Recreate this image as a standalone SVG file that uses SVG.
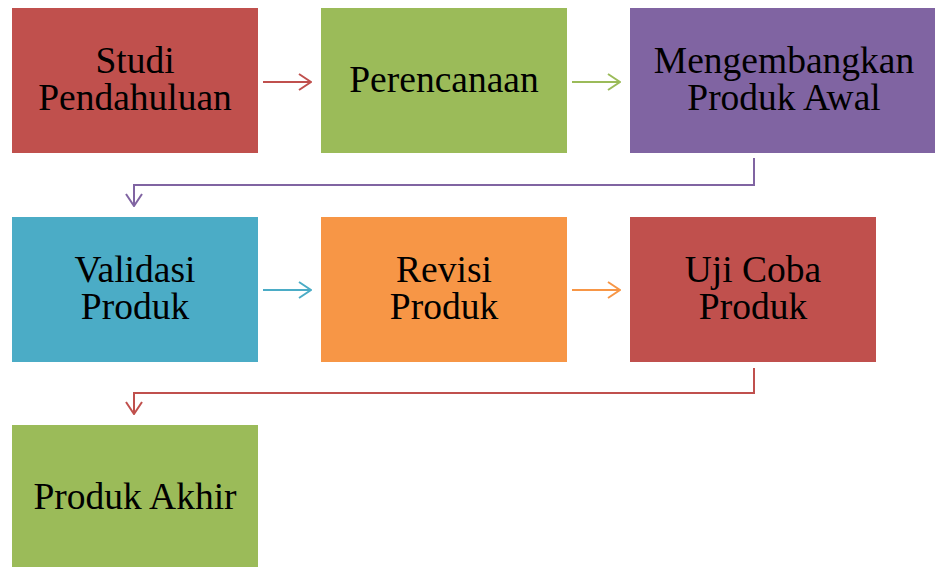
<svg xmlns="http://www.w3.org/2000/svg" width="935" height="567" viewBox="0 0 935 567">
<defs>
<style>
text{font-family:"Liberation Serif","Times New Roman",serif;font-size:37.5px;fill:#000;text-anchor:middle}
.c{fill:none;stroke-width:2}
</style>
<marker id="mr" markerWidth="14" markerHeight="18" refX="13" refY="9" orient="auto" markerUnits="userSpaceOnUse"><path d="M1,1 L13,9 L1,17" fill="none" stroke="#C0504D" stroke-width="2"/></marker>
<marker id="mg" markerWidth="14" markerHeight="18" refX="13" refY="9" orient="auto" markerUnits="userSpaceOnUse"><path d="M1,1 L13,9 L1,17" fill="none" stroke="#9BBB59" stroke-width="2"/></marker>
<marker id="mp" markerWidth="14" markerHeight="18" refX="13" refY="9" orient="auto" markerUnits="userSpaceOnUse"><path d="M1,1 L13,9 L1,17" fill="none" stroke="#8064A2" stroke-width="2"/></marker>
<marker id="mb" markerWidth="14" markerHeight="18" refX="13" refY="9" orient="auto" markerUnits="userSpaceOnUse"><path d="M1,1 L13,9 L1,17" fill="none" stroke="#4BACC6" stroke-width="2"/></marker>
<marker id="mo" markerWidth="14" markerHeight="18" refX="13" refY="9" orient="auto" markerUnits="userSpaceOnUse"><path d="M1,1 L13,9 L1,17" fill="none" stroke="#F79646" stroke-width="2"/></marker>
</defs>
<rect width="935" height="567" fill="#fff"/>
<g id="n1"><rect x="12" y="8" width="246" height="145" fill="#C0504D"/><text x="135" y="73">Studi</text><text x="135" y="110">Pendahuluan</text></g>
<g id="n2"><rect x="321" y="8" width="246" height="145" fill="#9BBB59"/><text x="444" y="92">Perencanaan</text></g>
<g id="n3"><rect x="630" y="8" width="308" height="145" fill="#8064A2"/><text x="784" y="73">Mengembangkan</text><text x="784" y="110">Produk Awal</text></g>
<g id="n4"><rect x="12" y="217" width="246" height="145" fill="#4BACC6"/><text x="135" y="282">Validasi</text><text x="135" y="319">Produk</text></g>
<g id="n5"><rect x="321" y="217" width="246" height="145" fill="#F79646"/><text x="444" y="282">Revisi</text><text x="444" y="319">Produk</text></g>
<g id="n6"><rect x="630" y="217" width="246" height="145" fill="#C0504D"/><text x="753" y="282">Uji Coba</text><text x="753" y="319">Produk</text></g>
<g id="n7"><rect x="12" y="425" width="246" height="146" fill="#9BBB59"/><text x="135" y="509">Produk Akhir</text></g>
<g id="connectors">
<path class="c" d="M263,82 H311" stroke="#C0504D" marker-end="url(#mr)"/>
<path class="c" d="M572,82 H620" stroke="#9BBB59" marker-end="url(#mg)"/>
<path class="c" d="M754,158 V185 H134 V206" stroke="#8064A2" marker-end="url(#mp)"/>
<path class="c" d="M263,290 H311" stroke="#4BACC6" marker-end="url(#mb)"/>
<path class="c" d="M572,290 H620" stroke="#F79646" marker-end="url(#mo)"/>
<path class="c" d="M754,368 V393 H134 V414" stroke="#C0504D" marker-end="url(#mr)"/>
</g>
</svg>
